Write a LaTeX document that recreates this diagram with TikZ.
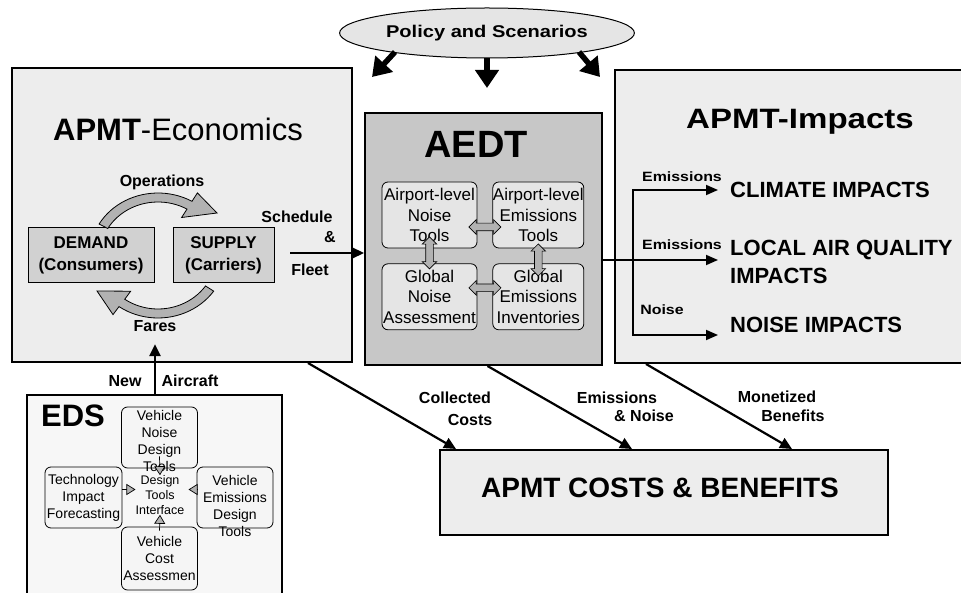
\documentclass[tikz,border=0pt]{standalone}
\usepackage{fontspec}
\setmainfont{Liberation Sans}
\newfontfamily\widesf[FakeStretch=1.18]{Liberation Sans}
\usetikzlibrary{shapes.geometric}
\usetikzlibrary{shapes.arrows}
\usetikzlibrary{positioning}
\usetikzlibrary{calc}
\usetikzlibrary{arrows.meta}

\begin{document}
\begin{tikzpicture}
			[
				x = 1pt, y = -1pt,
				bigblock/.style = {draw, rectangle, line width = 2pt, fill = black!7, inner sep = 0pt},
				flowblock/.style = {draw, rectangle, line width = 1pt, fill = black!18, align = center, font = \fontsize{17}{22}\selectfont\bfseries},
				toolblock/.style = {draw, rectangle, rounded corners = 6pt, line width = 0.8pt, fill = black!10, minimum width = 95pt, minimum height = 66pt, inner sep = 0pt, align = center, font = \fontsize{17}{20.5}\selectfont},
				edsblock/.style = {draw, rectangle, rounded corners = 6pt, line width = 0.8pt, fill = black!4, minimum width = 76pt, minimum height = 61pt, inner sep = 0pt},
				edstext/.style = {align = center, inner sep = 0pt, font = \fontsize{14}{17}\selectfont},
				impact/.style = {inner xsep = 12pt, inner ysep = 2.5pt, align = left, font = \fontsize{22}{28}\selectfont\bfseries},
				myvariable/.style = {font = \fontsize{16}{19}\selectfont\bfseries},
				smallvariable/.style = {font = \widesf\fontsize{13.5}{16}\selectfont\bfseries},
				myarrow/.style = {line width = 2.2pt, -{Triangle[length = 12pt, width = 11pt]}},
				impactarrow/.style = {line width = 1.8pt, -{Triangle[length = 12pt, width = 10pt]}},
				policyarrow/.style = {line width = 5.5pt, -{Triangle[length = 18pt, width = 23pt]}},
				fatarrow/.style = {draw, double arrow, fill = black!30, line width = 0.6pt, minimum height = 32pt, double arrow head extend = 3.5pt, inner xsep = 0pt, inner ysep = 3.5pt},
				looparrow/.style = {draw, line width = 0.8pt, fill = black!30},
				smallarrow/.style = {line width = 0.7pt, -{Triangle[open, fill = black!30, length = 9pt, width = 11pt]}}
			]
			\useasboundingbox (0,0) rectangle (961,593);
			%
			% scenarios on top
			\node (policy) [ellipse, draw, line width = 1pt, fill = black!10, minimum width = 293pt, minimum height = 50pt, font = \widesf\fontsize{17}{20}\selectfont\bfseries] at (487,33) {Policy and Scenarios};
			\coordinate (towardecon) at (372,77);
			\coordinate (towardaedt) at (487,88);
			\coordinate (towardimpacts) at (600,77);
			\draw [policyarrow] ([shift = {(-92,19)}]policy.center) -- (towardecon);
			\draw [policyarrow] (policy.south) -- (towardaedt);
			\draw [policyarrow] ([shift = {(92,19)}]policy.center) -- (towardimpacts);
			%
			% the main blocks
			\node (econ) [bigblock, minimum width = 340pt, minimum height = 294pt] at (182,215) {};
			\node (aedt) [bigblock, fill = black!22, minimum width = 237pt, minimum height = 252pt] at (483.5,239) {};
			\node (impacts) [bigblock, minimum width = 365pt, minimum height = 293pt] at (797.5,216.5) {};
			\node (costs) [bigblock, minimum width = 448pt, minimum height = 85pt] at (664,492.5) {};
			\node (eds) [bigblock, fill = black!3, minimum width = 255pt, minimum height = 225pt] at (154.5,507.5) {};
			%
			\node (econtitle) [font = \fontsize{31}{36}\selectfont] at (178,129) {\textbf{APMT}-Economics};
			\node (aedttitle) [font = \fontsize{38}{44}\selectfont\bfseries] at (476,144) {AEDT};
			\node (imptitle) [font = \widesf\fontsize{28}{34}\selectfont\bfseries] at (800,122) {APMT-Impacts};
			\node (edstitle) [font = \fontsize{31}{36}\selectfont\bfseries] at (73,416) {EDS};
			\node (coststitle) [font = \fontsize{28}{34}\selectfont\bfseries] at (660,488) {APMT COSTS \& BENEFITS};
			%
			% demand and supply loop
			\node (demand) [flowblock, minimum width = 126pt, minimum height = 55pt] at (91,255.5) {DEMAND\\(Consumers)};
			\node (supply) [flowblock, minimum width = 101pt, minimum height = 55pt, right = 18pt of demand] {SUPPLY\\(Carriers)};
			\node (operations) [myvariable] at (162,182) {Operations};
			\node (fares) [myvariable] at (155,326) {Fares};
			\filldraw [looparrow] plot [domain = 150:60, variable = \t, samples = 24] ({158+68*cos(\t)}, {255-62*sin(\t)}) -- (197.4,192.9) -- (217,213) -- (181.6,217.5) -- plot [domain = 60:150, variable = \t, samples = 24] ({158+58*cos(\t)}, {255-53*sin(\t)}) -- cycle;
			\filldraw [looparrow] plot [domain = -35:-125, variable = \t, samples = 24] ({158+68*cos(\t)}, {255-63*sin(\t)}) -- (113,314.6) -- (97,291) -- (130.7,291.2) -- plot [domain = -125:-35, variable = \t, samples = 24] ({158+58*cos(\t)}, {255-54*sin(\t)}) -- cycle;
			%
			\coordinate (sfstart) at (290,253);
			\draw [myarrow] (sfstart) -- (sfstart -| aedt.west);
			\node (schedule) [myvariable] at (297,217) {Schedule};
			\node (amp) [myvariable] at (330,237) {\&};
			\node (fleet) [myvariable] at (310,270) {Fleet};
			%
			% AEDT tools
			\node (noisetools) [toolblock] at (429.5,215) {Airport-level\\Noise\\Tools};
			\node (emistools) [toolblock, minimum width = 91pt, right = 15pt of noisetools] {Airport-level\\Emissions\\Tools};
			\node (noiseglobal) [toolblock, below = 15pt of noisetools] {Global\\Noise\\Assessment};
			\node (emisglobal) [toolblock, minimum width = 91pt, below = 15pt of emistools] {Global\\Emissions\\Inventories};
			\node (fatA) [fatarrow, yshift = -12pt] at ($(noisetools.east)!0.5!(emistools.west)$) {};
			\node (fatB) [fatarrow, yshift = 9pt] at ($(noiseglobal.east)!0.5!(emisglobal.west)$) {};
			\node (fatC) [fatarrow, rotate = 90, xshift = 3pt] at ($(noisetools.south)!0.5!(noiseglobal.north)$) {};
			\node (fatD) [fatarrow, rotate = 90, xshift = -4pt] at ($(emistools.south)!0.5!(emisglobal.north)$) {};
			%
			% impacts
			\coordinate (split) at (633,260);
			\node (climate) [impact, anchor = west] at (718,190) {CLIMATE IMPACTS};
			\node (localair) [impact, anchor = west] at (718,261.5) {LOCAL AIR QUALITY\\IMPACTS};
			\node (noiseimp) [impact, anchor = south west] at (718,335) {NOISE IMPACTS};
			\draw [impactarrow] (split -| aedt.east) -- (split -| localair.west);
			\draw [impactarrow] (split) |- (climate.west);
			\draw [impactarrow] (split) |- (noiseimp.south west);
			\node (emislabA) [smallvariable] at (682,177) {Emissions};
			\node (emislabB) [smallvariable] at (682,245) {Emissions};
			\node (noiselab) [smallvariable] at (662,310) {Noise};
			%
			% flows into costs and benefits
			\draw [myarrow] ([xshift = -45pt]econ.south east) -- ([xshift = 17pt]costs.north west);
			\draw [myarrow] ([xshift = 4pt]aedt.south) -- ([xshift = 193pt]costs.north west);
			\draw [myarrow] ([xshift = 32pt]impacts.south west) -- ([xshift = 353pt]costs.north west);
			\node (collected) [myvariable] at (455,398) {Collected};
			\node (collcosts) [myvariable] at (470,420) {Costs};
			\node (emisnoiseA) [myvariable] at (617,398) {Emissions};
			\node (emisnoiseB) [myvariable] at (644,416) {\& Noise};
			\node (monetized) [myvariable] at (777,397) {Monetized};
			\node (benefits) [myvariable] at (793,416) {Benefits};
			%
			% EDS tools
			\draw [myarrow, shorten >= 9pt] (eds.north -| fares) -- (fares.south);
			\node (newlab) [myvariable] at (125,381) {New};
			\node (aircraftlab) [myvariable] at (190,381) {Aircraft};
			\node (edsnoise) [edsblock, label = {[edstext, yshift = -3pt]center:{Vehicle\\Noise\\Design\\Tools}}] at (159.5,437.5) {};
			\node (edstech) [edsblock, minimum width = 77pt, label = {[edstext]center:{Technology\\Impact\\Forecasting}}] at (83.5,497.5) {};
			\node (edsemis) [edsblock, label = {[edstext, yshift = -8.5pt]center:{Vehicle\\Emissions\\Design\\Tools}}] at (235,497.5) {};
			\node (edscost) [edsblock, minimum height = 63pt, label = {[edstext]center:{Vehicle\\Cost\\Assessmen}}] at (159.5,558.5) {};
			\node (edsiface) [edstext, font = \fontsize{12.5}{15}\selectfont] at (160,495) {Design\\Tools\\Interface};
			\draw [smallarrow] ([yshift = 12pt]edsnoise.south) -- (edsiface.north);
			\draw [smallarrow] ([yshift = 8pt]edstech.east) -- ([yshift = 8pt]edstech.east -| edsiface.west);
			\draw [smallarrow, shorten >= 4pt] ([yshift = 8pt]edsemis.west) -- ([yshift = 8pt]edsemis.west -| edsiface.east);
			\draw [smallarrow] ([yshift = -4pt]edscost.north) -- (edsiface.south);
			%
		\end{tikzpicture}
\end{document}
